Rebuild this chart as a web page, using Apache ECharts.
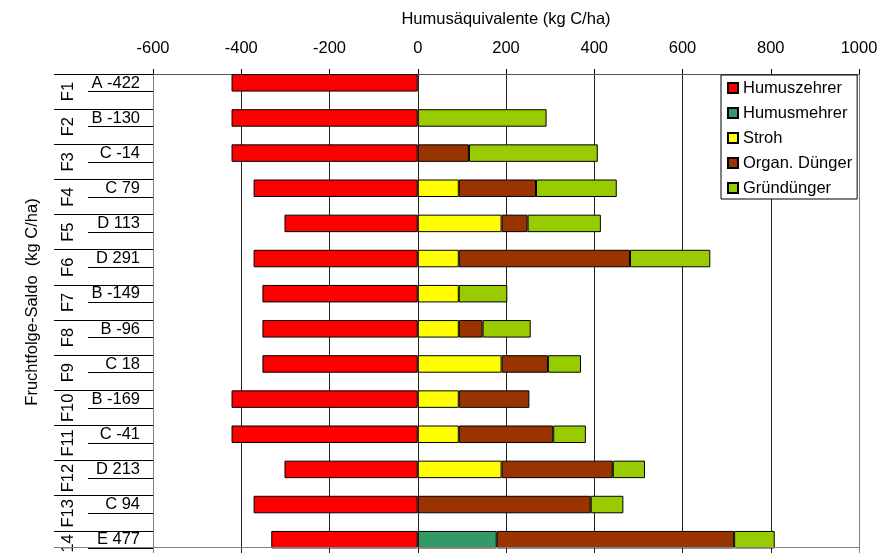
<!DOCTYPE html>
<html>
<head>
<meta charset="utf-8">
<script src="https://cdn.jsdelivr.net/npm/echarts@6/dist/echarts.min.js"></script>
<style>
html,body{margin:0;padding:0;background:#fff;}
#chart{width:880px;height:553px;}
</style>
</head>
<body>
<div id="chart"></div>
<script>
const categories = ['F1','F2','F3','F4','F5','F6','F7','F8','F9','F10','F11','F12','F13','F14'];
const saldoLabels = ['A -422','B -130','C -14','C 79','D 113','D 291','B -149','B -96','C 18','B -169','C -41','D 213','C 94','E 477'];
const humuszehrer = [-422,-422,-422,-372,-302,-372,-352,-352,-352,-422,-422,-302,-372,-332];
const humusmehrer = [0,0,0,0,0,0,0,0,0,0,0,0,0,179];
const stroh = [0,0,0,93,190,93,93,93,190,93,93,190,0,0];
const organDuenger = [0,0,116,175,59,388,0,54,105,160,214,252,392,538];
const gruenduenger = [0,292,292,183,166,182,110,109,75,0,74,73,74,92];
const xTicks = {min:-600, max:1000, interval:200};

const FONT = 'Liberation Sans, Arial, sans-serif';
const FS = 16.5;
const clean = arr => arr.map(v => v === 0 ? '-' : v);

function barSeries(name, data, color) {
  return {
    name: name, type: 'bar', stack: 'main', yAxisIndex: 0,
    barWidth: 17.5, barGap: '0%', barCategoryGap: '0%',
    data: clean(data),
    itemStyle: {color: color, borderColor: '#000', borderWidth: 1}
  };
}

const chart = echarts.init(document.getElementById('chart'), null, {renderer:'canvas'});
chart.setOption({
  animation: false,
  backgroundColor: '#fff',
  textStyle: {fontFamily: FONT, color: '#000'},
  grid: {left: 153, right: 21, top: 74, height: 492, containLabel: false, outerBoundsMode: 'none'},
  xAxis: {
    type: 'value', position: 'top',
    min: xTicks.min, max: xTicks.max, interval: xTicks.interval,
    name: 'Humusäquivalente (kg C/ha)', nameLocation: 'middle', nameGap: 46,
    nameTextStyle: {fontSize: FS, color: '#000', fontFamily: FONT},
    axisLine: {show: true, onZero: false, lineStyle: {color: '#555', width: 1}},
    axisTick: {show: true, length: 5, lineStyle: {color: '#000'}},
    axisLabel: {fontSize: FS, color: '#000', margin: 17, fontFamily: FONT, formatter: v => String(v)},
    splitLine: {show: true, lineStyle: {color: ['#808080','#222','#222','#222','#222','#222','#222','#222','#808080'], width: 1}}
  },
  yAxis: [
    {
      type: 'category', data: categories, inverse: true,
      axisLine: {show: true, onZero: false, lineStyle: {color: '#808080'}},
      axisTick: {show: true, alignWithLabel: false, interval: 0, length: 99, lineStyle: {color: '#000'}},
      axisLabel: {show: true, interval: 0, rotate: 90, margin: 76, fontSize: FS, color: '#000', fontFamily: FONT},
      splitLine: {show: false}
    },
    {
      type: 'category', data: saldoLabels, inverse: true, position: 'left',
      axisLine: {show: false, onZero: false},
      axisTick: {show: true, alignWithLabel: true, interval: 0, length: 65, lineStyle: {color: '#000'}},
      axisLabel: {show: true, interval: 0, margin: 13, verticalAlign: 'bottom', fontSize: FS, color: '#000', fontFamily: FONT},
      splitLine: {show: false}
    }
  ],
  legend: {
    orient: 'vertical', left: 721, top: 75,
    data: ['Humuszehrer','Humusmehrer','Stroh','Organ. Dünger','Gründünger'],
    icon: 'rect', itemWidth: 10, itemHeight: 10, itemGap: 7,
    padding: [4, 5, 2, 6],
    backgroundColor: '#fff', borderColor: '#000', borderWidth: 1, borderRadius: 0,
    textStyle: {fontSize: FS, color: '#000', fontFamily: FONT, lineHeight: 18}
  },
  graphic: [{
    id: 'ytitle',
    type: 'text',
    x: 32, y: 302,
    style: {text: 'Fruchtfolge-Saldo  (kg C/ha)', fontSize: FS, fontFamily: FONT, fill: '#000', align: 'center', verticalAlign: 'middle'},
    rotation: Math.PI/2
  }],
  series: [
    barSeries('Humuszehrer', humuszehrer, '#FF0000'),
    barSeries('Humusmehrer', humusmehrer, '#339966'),
    barSeries('Stroh', stroh, '#FFFF00'),
    barSeries('Organ. Dünger', organDuenger, '#993300'),
    barSeries('Gründünger', gruenduenger, '#99CC00'),
    {name: 'pad', type: 'bar', stack: 'pad', yAxisIndex: 0, barWidth: 17.5, barGap: '0%',
     data: categories.map(() => '-'), itemStyle: {color: 'transparent'}}
  ]
});

// Bottom border of the plot area: drawn at the centre of the last category band
let yB = chart.convertToPixel({yAxisIndex: 0}, categories.length - 1);
if (Array.isArray(yB)) yB = yB[1];
let xL = chart.convertToPixel({xAxisIndex: 0}, xTicks.min);
let xR = chart.convertToPixel({xAxisIndex: 0}, xTicks.max);
if (!isFinite(yB)) yB = 548;
if (!isFinite(xL)) xL = 153;
if (!isFinite(xR)) xR = 859;
const yBottom = Math.round(yB) - 0.5;
chart.setOption({
  graphic: [{
    id: 'bottomBorder',
    type: 'line', silent: true, z: 100,
    shape: {x1: xL - 99, y1: yBottom, x2: xR, y2: yBottom},
    style: {stroke: '#808080', lineWidth: 1}
  }]
});
</script>
</body>
</html>
